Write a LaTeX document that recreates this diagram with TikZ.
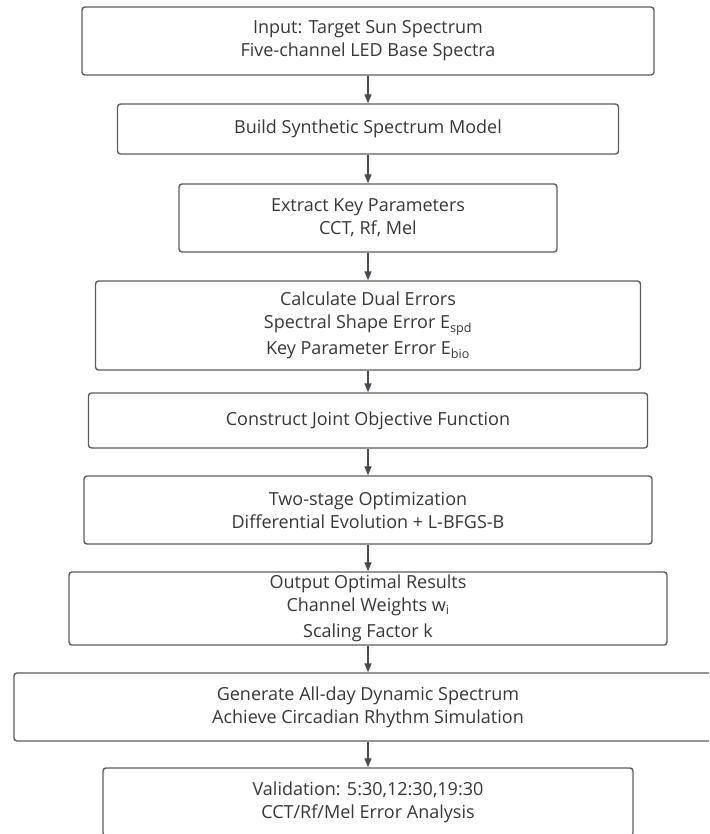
\documentclass[tikz,border=0pt]{standalone}
\usepackage{fontspec}
\setmainfont{Open Sans}
\usepackage{tikz}
\usetikzlibrary{arrows.meta}
\definecolor{boxline}{HTML}{5A5E63}
\definecolor{boxtext}{HTML}{383838}
\tikzset{
  stepbox/.style={draw=boxline, line width=1.4pt, rounded corners=3pt,
    fill=white, text=boxtext, align=center, inner sep=0pt,
    font=\fontsize{18}{23}\selectfont},
  flow/.style={draw=boxline!80!black, line width=1.2pt,
    -{Triangle[length=9pt,width=7pt]}}
}

\begin{document}
\begin{tikzpicture}[x=1pt,y=-1pt]
  % page frame, 709 x 834
  \useasboundingbox (0,0) rectangle (709,834);
  \clip (0,0) rectangle (709,834);

  % boxes, all centred on x=368
  \node[stepbox, minimum width=572pt, minimum height=68pt] (input) at (368,41)
    {Input: Target Sun Spectrum\\Five-channel LED Base Spectra};
  \node[stepbox, minimum width=501pt, minimum height=50pt] (model) at (368,129)
    {Build Synthetic Spectrum Model};
  \node[stepbox, minimum width=378pt, minimum height=68pt] (params) at (368,218)
    {Extract Key Parameters\\CCT, Rf, Mel};
  \node[stepbox, minimum width=545pt, minimum height=89pt] (errors) at (368,325.5)
    {Calculate Dual Errors\\Spectral Shape Error E\textsubscript{spd}\\[3pt]
     Key Parameter Error E\textsubscript{bio}};
  \node[stepbox, minimum width=559pt, minimum height=55pt] (objective) at (368,420.5)
    {Construct Joint Objective Function};
  \node[stepbox, minimum width=568pt, minimum height=68pt] (optim) at (368,510)
    {Two-stage Optimization\\Differential Evolution + L-BFGS-B};
  \node[stepbox, minimum width=598pt, minimum height=73pt] (output) at (368,608.5)
    {Output Optimal Results\\Channel Weights w\textsubscript{i}\\[3pt]
     Scaling Factor k};
  \node[stepbox, minimum width=708pt, minimum height=68pt] (dynamic) at (368,707)
    {Generate All-day Dynamic Spectrum\\Achieve Circadian Rhythm Simulation};
  \node[stepbox, minimum width=530pt, minimum height=68pt] (valid) at (368,802)
    {Validation: 5:30,12:30,19:30\\CCT/Rf/Mel Error Analysis};

  % connectors
  \foreach \a/\b in {input/model, model/params, params/errors, errors/objective,
                     objective/optim, optim/output, output/dynamic, dynamic/valid}
    \draw[flow] (\a.south) -- (\b.north);
\end{tikzpicture}
\end{document}
